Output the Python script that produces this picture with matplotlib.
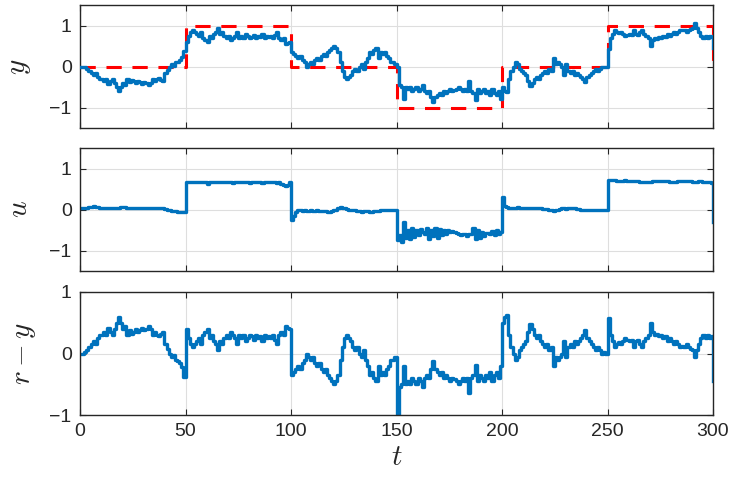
import numpy as np
import matplotlib
matplotlib.use("Agg")
import matplotlib.pyplot as plt

plt.rcParams['font.family'] = ['Liberation Sans', 'DejaVu Sans']
plt.rcParams['mathtext.fontset'] = 'cm'

# time axis
t = np.arange(0, 301)

# reference levels per 50-step segment, and final value at t=300
r_levels = [0, 1, 0, -1, 0, 1]
r_final = 0

# output y, one value per time step
y_seg0 = [0.0, 0.0, -0.02, -0.05, -0.1, -0.15, -0.2, -0.15, -0.25, -0.3,
          -0.3, -0.35, -0.3, -0.42, -0.35, -0.3, -0.4, -0.5, -0.6, -0.5,
          -0.4, -0.45, -0.3, -0.38, -0.32, -0.35, -0.4, -0.35, -0.38, -0.42,
          -0.38, -0.4, -0.45, -0.4, -0.3, -0.35, -0.3, -0.28, -0.32, -0.35,
          -0.15, -0.08, 0.0, 0.05, 0.02, 0.1, 0.12, 0.15, 0.22, 0.38]
y_seg1 = [0.6, 0.75, 0.85, 0.9, 0.85, 0.8, 0.75, 0.85, 0.7, 0.65,
          0.6, 0.75, 0.7, 0.8, 0.85, 0.95, 0.8, 0.85, 0.75, 0.7,
          0.75, 0.65, 0.7, 0.75, 0.85, 0.7, 0.75, 0.7, 0.8, 0.75,
          0.7, 0.72, 0.78, 0.7, 0.75, 0.72, 0.8, 0.7, 0.75, 0.72,
          0.75, 0.7, 0.78, 0.85, 0.7, 0.65, 0.7, 0.55, 0.58, 0.6]
y_seg2 = [0.35, 0.3, 0.25, 0.2, 0.25, 0.15, 0.1, 0.0, 0.05, 0.1,
          0.05, 0.15, 0.2, 0.15, 0.25, 0.3, 0.25, 0.35, 0.4, 0.45,
          0.5, 0.45, 0.35, 0.1, -0.1, -0.25, -0.3, -0.25, -0.2, -0.1,
          -0.05, -0.1, 0.0, 0.05, -0.05, 0.1, 0.2, 0.35, 0.3, 0.4,
          0.45, 0.2, 0.35, 0.3, 0.35, 0.25, 0.2, 0.1, 0.1, 0.05]
y_seg3 = [0.0, -0.45, -0.5, -0.8, -0.5, -0.55, -0.5, -0.6, -0.55, -0.5,
          -0.6, -0.55, -0.45, -0.6, -0.65, -0.6, -0.75, -0.87, -0.75, -0.7,
          -0.65, -0.7, -0.6, -0.65, -0.6, -0.55, -0.6, -0.58, -0.55, -0.5,
          -0.55, -0.6, -0.55, -0.6, -0.35, -0.6, -0.65, -0.82, -0.55, -0.65,
          -0.6, -0.55, -0.65, -0.6, -0.7, -0.55, -0.65, -0.7, -0.6, -0.8]
y_seg4 = [-0.5, -0.6, -0.62, -0.3, -0.1, 0.0, 0.1, 0.05, -0.05, -0.1,
          -0.15, -0.2, -0.35, -0.48, -0.4, -0.3, -0.25, -0.3, -0.2, -0.15,
          -0.1, -0.15, -0.05, -0.1, 0.2, 0.05, 0.1, 0.05, 0.0, -0.2,
          0.05, -0.1, -0.15, -0.1, -0.2, -0.15, -0.2, -0.25, -0.3, -0.39,
          -0.25, -0.2, -0.15, -0.1, -0.05, -0.1, -0.05, 0.0, -0.02, 0.0]
y_seg5 = [0.42, 0.7, 0.8, 0.9, 0.85, 0.82, 0.85, 0.8, 0.75, 0.78,
          0.8, 0.78, 0.9, 0.8, 0.78, 0.85, 0.9, 0.8, 0.75, 0.7,
          0.5, 0.65, 0.7, 0.68, 0.72, 0.7, 0.75, 0.72, 0.8, 0.75,
          0.8, 0.85, 0.8, 0.85, 0.9, 0.88, 0.9, 0.85, 0.9, 0.92,
          0.95, 1.05, 0.95, 0.85, 0.75, 0.7, 0.75, 0.7, 0.75, 0.72]
y_final = 0.45

# control input u, one value per time step
u_seg0 = [0.03, 0.03, 0.03, 0.04, 0.05, 0.07, 0.08, 0.07, 0.05, 0.04,
          0.04, 0.04, 0.04, 0.04, 0.04, 0.04, 0.04, 0.04, 0.04, 0.05,
          0.07, 0.06, 0.04, 0.04, 0.04, 0.04, 0.04, 0.04, 0.04, 0.04,
          0.04, 0.04, 0.04, 0.04, 0.04, 0.04, 0.04, 0.04, 0.04, 0.03,
          0.02, 0.0, -0.02, -0.03, -0.03, -0.04, -0.05, -0.05, -0.06, -0.06]
u_seg1 = [0.68, 0.68, 0.68, 0.67, 0.68, 0.68, 0.67, 0.68, 0.68, 0.66,
          0.63, 0.66, 0.68, 0.68, 0.68, 0.67, 0.68, 0.68, 0.68, 0.68,
          0.68, 0.67, 0.64, 0.66, 0.68, 0.68, 0.66, 0.68, 0.68, 0.68,
          0.65, 0.68, 0.68, 0.68, 0.67, 0.68, 0.65, 0.68, 0.68, 0.68,
          0.68, 0.66, 0.68, 0.64, 0.68, 0.62, 0.6, 0.58, 0.6, 0.66]
u_seg2 = [-0.25, -0.15, -0.05, -0.02, -0.02, -0.03, -0.02, -0.03, -0.03, -0.02,
          -0.03, -0.03, -0.02, -0.03, -0.03, -0.04, -0.04, -0.05, -0.05, -0.03,
          -0.02, 0.0, 0.03, 0.05, 0.04, 0.03, 0.02, 0.0, 0.0, -0.01,
          -0.02, -0.03, -0.04, -0.05, -0.04, -0.03, -0.04, -0.05, -0.05, -0.04,
          -0.03, -0.03, -0.02, -0.02, -0.02, -0.01, 0.0, 0.0, 0.0, 0.0]
u_seg3 = [-0.75, -0.62, -0.8, -0.3, -0.7, -0.5, -0.72, -0.45, -0.68, -0.5,
          -0.62, -0.48, -0.55, -0.6, -0.45, -0.72, -0.5, -0.65, -0.45, -0.7,
          -0.48, -0.62, -0.5, -0.6, -0.5, -0.55, -0.52, -0.55, -0.58, -0.6,
          -0.62, -0.6, -0.6, -0.65, -0.6, -0.6, -0.45, -0.72, -0.5, -0.7,
          -0.55, -0.65, -0.58, -0.58, -0.6, -0.52, -0.62, -0.5, -0.6, -0.55]
u_seg4 = [0.3, 0.08, 0.05, 0.04, 0.03, 0.03, 0.04, 0.05, 0.04, 0.03,
          0.03, 0.03, 0.04, 0.04, 0.04, 0.03, 0.03, 0.03, 0.03, 0.02,
          0.02, 0.02, 0.0, -0.01, -0.03, -0.02, 0.0, 0.02, 0.03, 0.03,
          0.02, 0.03, 0.04, 0.04, 0.03, 0.02, 0.01, 0.0, 0.0, 0.0,
          0.0, 0.0, 0.0, 0.0, -0.01, -0.01, -0.01, -0.01, -0.01, 0.0]
u_seg5 = [0.72, 0.73, 0.72, 0.71, 0.7, 0.7, 0.7, 0.7, 0.71, 0.7,
          0.7, 0.7, 0.69, 0.7, 0.7, 0.68, 0.66, 0.67, 0.68, 0.68,
          0.68, 0.69, 0.7, 0.7, 0.69, 0.69, 0.7, 0.7, 0.69, 0.68,
          0.68, 0.68, 0.68, 0.69, 0.7, 0.7, 0.69, 0.7, 0.7, 0.69,
          0.68, 0.68, 0.68, 0.69, 0.69, 0.68, 0.66, 0.67, 0.68, 0.65]
u_final = -0.3

xticks = [0, 50, 100, 150, 200, 250, 300]

# assemble series
r = np.concatenate([np.full(50, lv, dtype=float) for lv in r_levels] + [np.array([r_final], float)])
y = np.array(y_seg0 + y_seg1 + y_seg2 + y_seg3 + y_seg4 + y_seg5 + [y_final])
u = np.array(u_seg0 + u_seg1 + u_seg2 + u_seg3 + u_seg4 + u_seg5 + [u_final])
e = r - y

blue = '#0072BD'
W, H = 737, 482
fig = plt.figure(figsize=(W / 100, H / 100), dpi=100)

def ax_at(top, bottom):
    return fig.add_axes([80 / W, 1 - bottom / H, (713 - 80) / W, (bottom - top) / H])

ax1 = ax_at(5, 128)
ax2 = ax_at(148, 271)
ax3 = ax_at(292, 415)

for ax in (ax1, ax2, ax3):
    ax.set_xlim(0, 300)
    ax.set_xticks(xticks)
    ax.grid(True, color='#dedede', lw=0.8)
    ax.set_axisbelow(True)
    ax.tick_params(direction='in', top=True, right=True, length=4, width=0.8,
                   labelsize=14, colors='#262626', pad=6)
    for s in ax.spines.values():
        s.set_color('#262626')
        s.set_linewidth(1.0)

ax1.plot(t, r, drawstyle='steps-post', color='#FF0000', lw=2.2, dashes=(5, 3.5), zorder=3)
ax1.plot(t, y, drawstyle='steps-post', color=blue, lw=2.4, zorder=4)
ax1.set_ylim(-1.5, 1.5)
ax1.set_yticks([-1, 0, 1])
ax1.set_ylabel('$y$', fontsize=21, color='#262626', labelpad=12)

ax2.plot(t, u, drawstyle='steps-post', color=blue, lw=2.4)
ax2.set_ylim(-1.5, 1.5)
ax2.set_yticks([-1, 0, 1])
ax2.set_ylabel('$u$', fontsize=21, color='#262626', labelpad=12)

ax3.plot(t, e, drawstyle='steps-post', color=blue, lw=2.4)
ax3.set_ylim(-1, 1)
ax3.set_yticks([-1, 0, 1])
ax3.set_ylabel('$r-y$', fontsize=21, color='#262626', labelpad=8)
ax3.set_xlabel('$t$', fontsize=21, color='#262626', labelpad=2)

for ax in (ax1, ax2):
    ax.tick_params(labelbottom=False)

fig.savefig('out.png', dpi=100)
